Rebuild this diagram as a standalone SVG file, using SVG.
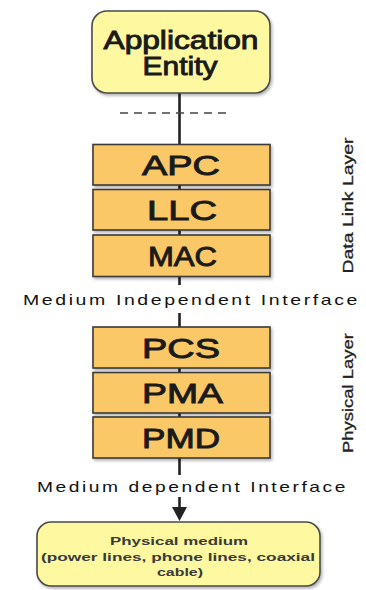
<svg xmlns="http://www.w3.org/2000/svg" width="366" height="590" viewBox="0 0 366 590">
<style>
.yel{fill:#fef9a0;stroke:#4a4a4a;stroke-width:1.6}
.org{fill:#fbc867;stroke:#3a3a3a;stroke-width:1.6}
.lbl{font-family:"Liberation Sans",Arial,sans-serif;font-weight:normal;fill:#1a1a1a;stroke:#1a1a1a;stroke-width:0.9}
.big{font-size:27px}
.app{font-size:25px}
.iface{font-family:"Liberation Sans",Arial,sans-serif;font-size:15px;letter-spacing:2px;fill:#111}
.side{font-family:"Liberation Sans",Arial,sans-serif;font-size:15px;fill:#222;stroke:#222;stroke-width:0.3}
.med{font-family:"Liberation Sans",Arial,sans-serif;font-size:11px;font-weight:bold;fill:#3a3a3a}
.con{stroke:#222;stroke-width:2.6;fill:none}
</style>
<defs>
<filter id="sh" x="-10%" y="-10%" width="125%" height="135%">
<feDropShadow dx="1.5" dy="2" stdDeviation="1.5" flood-color="#000" flood-opacity="0.3"/>
</filter>
</defs>
<g id="connectors">
<line class="con" x1="179.5" y1="93" x2="179.5" y2="285"/>
<line x1="120" y1="113" x2="228" y2="113" stroke="#444" stroke-width="1.6" stroke-dasharray="8,6"/>
<line class="con" x1="179.5" y1="313" x2="179.5" y2="475"/>
<line class="con" x1="179.5" y1="497" x2="179.5" y2="509"/>
<path d="M172,507 L187,507 L179.5,521 Z" fill="#222"/>
</g>
<g id="app-entity">
<rect class="yel" x="92" y="11" width="178" height="82" rx="15" filter="url(#sh)"/>
<text class="lbl app" x="181" y="49" text-anchor="middle" textLength="155" lengthAdjust="spacingAndGlyphs">Application</text>
<text class="lbl app" x="180" y="75" text-anchor="middle" textLength="75" lengthAdjust="spacingAndGlyphs">Entity</text>
</g>
<g id="apc">
<rect class="org" x="93" y="144.5" width="177" height="40.5" filter="url(#sh)"/>
<text class="lbl big" x="181" y="175" text-anchor="middle" textLength="78" lengthAdjust="spacingAndGlyphs">APC</text>
</g>
<g id="llc">
<rect class="org" x="93" y="189.5" width="177" height="40.5" filter="url(#sh)"/>
<text class="lbl big" x="182" y="220" text-anchor="middle" textLength="70" lengthAdjust="spacingAndGlyphs">LLC</text>
</g>
<g id="mac">
<rect class="org" x="93" y="235" width="177" height="41.5" filter="url(#sh)"/>
<text class="lbl big" x="182.5" y="266" text-anchor="middle" textLength="69" lengthAdjust="spacingAndGlyphs">MAC</text>
</g>
<g id="data-link-layer">
<text class="side" transform="translate(353,205.5) rotate(-90)" text-anchor="middle" textLength="136" lengthAdjust="spacingAndGlyphs">Data Link Layer</text>
</g>
<g id="mii">
<text class="iface" x="23" y="305" textLength="337" lengthAdjust="spacingAndGlyphs">Medium Independent Interface</text>
</g>
<g id="pcs">
<rect class="org" x="93" y="327" width="177" height="41" filter="url(#sh)"/>
<text class="lbl big" x="181" y="358" text-anchor="middle" textLength="78" lengthAdjust="spacingAndGlyphs">PCS</text>
</g>
<g id="pma">
<rect class="org" x="93" y="372.5" width="177" height="40.5" filter="url(#sh)"/>
<text class="lbl big" x="182.5" y="403" text-anchor="middle" textLength="81" lengthAdjust="spacingAndGlyphs">PMA</text>
</g>
<g id="pmd">
<rect class="org" x="93" y="417" width="177" height="41" filter="url(#sh)"/>
<text class="lbl big" x="181" y="448" text-anchor="middle" textLength="78" lengthAdjust="spacingAndGlyphs">PMD</text>
</g>
<g id="physical-layer">
<text class="side" transform="translate(353,393) rotate(-90)" text-anchor="middle" textLength="120" lengthAdjust="spacingAndGlyphs">Physical Layer</text>
</g>
<g id="mdi">
<text class="iface" x="37" y="492" textLength="311" lengthAdjust="spacingAndGlyphs">Medium dependent Interface</text>
</g>
<g id="physical-medium">
<rect class="yel" x="37" y="522" width="283" height="64" rx="14" filter="url(#sh)"/>
<text class="med" x="179" y="545" text-anchor="middle" textLength="138" lengthAdjust="spacingAndGlyphs">Physical medium</text>
<text class="med" x="178" y="561" text-anchor="middle" textLength="274" lengthAdjust="spacingAndGlyphs">(power lines, phone lines, coaxial</text>
<text class="med" x="180" y="576" text-anchor="middle" textLength="46" lengthAdjust="spacingAndGlyphs">cable)</text>
</g>
</svg>
